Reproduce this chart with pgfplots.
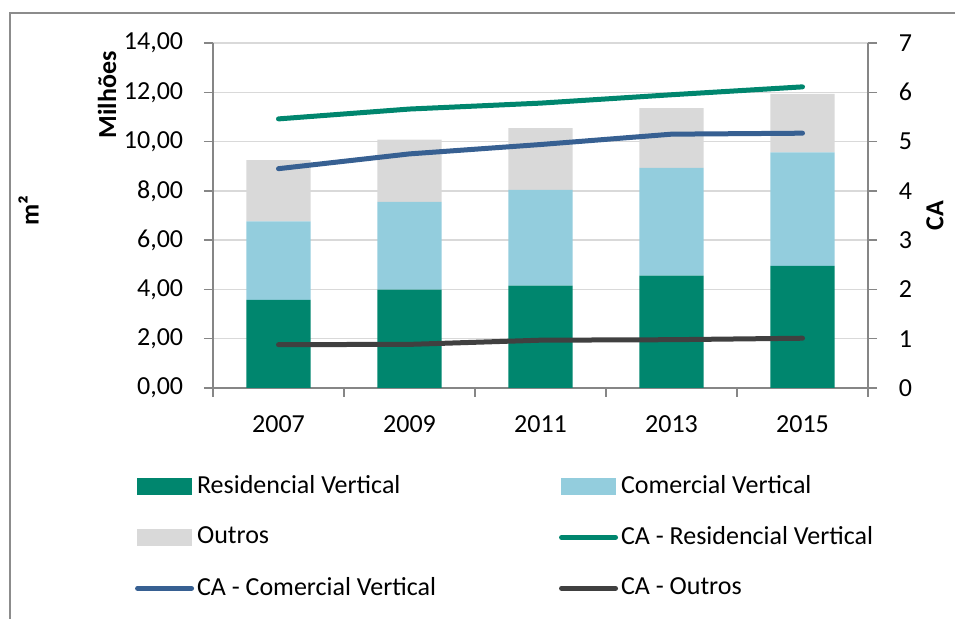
\documentclass[border=0pt]{standalone}
\usepackage{fontspec}
\setmainfont{Carlito}
\usepackage{pgfplots}
\pgfplotsset{compat=1.18}
\definecolor{resgreen}{HTML}{00866E}
\definecolor{comblue}{HTML}{93CDDD}
\definecolor{outgray}{HTML}{D9D9D9}
\definecolor{cacom}{HTML}{376092}
\definecolor{caout}{HTML}{404040}
\definecolor{axisgray}{HTML}{868686}
\definecolor{gridgray}{HTML}{D9D9D9}
\definecolor{framegray}{HTML}{8C8C8C}
\begin{document}
\fontsize{26bp}{31bp}\selectfont
\begin{tikzpicture}
\path[use as bounding box] (0,0) rectangle (955bp,619bp);
\draw[framegray, line width=1.5bp] (10bp,0bp) -- (10bp,606bp) -- (955bp,606bp);
\begin{axis}[
  at={(213bp,231bp)}, anchor=south west,
  scale only axis, width=655bp, height=345bp,
  xmin=-0.5, xmax=4.5, ymin=0, ymax=14, enlargelimits=false,
  ybar stacked, bar width=0.49,
  axis x line*=bottom, axis y line*=left,
  axis line style={draw=axisgray, line width=1.5bp},
  tick align=outside, major tick length=9bp,
  every tick/.style={draw=axisgray, line width=1.5bp},
  ytick={0,2,...,14},
  ymajorgrids, grid style={draw=gridgray, line width=1.3bp},
  xtick={-0.5,0.5,1.5,2.5,3.5,4.5}, xticklabels={,,,,,},
  extra x ticks={0,1,2,3,4},
  extra x tick labels={2007,2009,2011,2013,2015},
  extra x tick style={major tick length=0pt},
  x tick label style={yshift=-19bp},
  /pgf/number format/assume math mode=true,
  y tick label style={xshift=-12bp, /pgf/number format/.cd, fixed, fixed zerofill, precision=2, use comma, /tikz/.cd},
]
\addplot[fill=resgreen, draw=none] coordinates {(0,3.58) (1,3.99) (2,4.15) (3,4.56) (4,4.96)};
\addplot[fill=comblue, draw=none] coordinates {(0,3.18) (1,3.56) (2,3.89) (3,4.37) (4,4.60)};
\addplot[fill=outgray, draw=none] coordinates {(0,2.49) (1,2.53) (2,2.51) (3,2.43) (4,2.38)};
\end{axis}
\begin{axis}[
  at={(213bp,231bp)}, anchor=south west,
  scale only axis, width=655bp, height=345bp,
  xmin=-0.5, xmax=4.5, ymin=0, ymax=7, enlargelimits=false,
  axis x line=none, axis y line*=right,
  axis line style={draw=axisgray, line width=1.5bp},
  tick align=outside, major tick length=9bp,
  every tick/.style={draw=axisgray, line width=1.5bp},
  ytick={0,1,...,7},
  y tick label style={xshift=13bp},
  /pgf/number format/assume math mode=true,
  legend image code/.code={\draw[line cap=round] (0bp,0bp) -- (54bp,0bp); \path (57bp,0bp);},
  legend columns=2,
  legend cell align=left,
  legend style={at={(axis description cs:-0.119,-0.2535)}, anchor=north west,
    draw=none, fill=none, inner sep=0pt, outer sep=0pt, row sep=29bp,
    nodes={inner xsep=0pt, inner ysep=0pt},
    /tikz/every even column/.append style={column sep=123bp}},
]
\addlegendimage{legend image code/.code={\fill[resgreen] (0bp,-8bp) rectangle (54bp,8bp); \path (57bp,0bp);}}
\addlegendentry{Residencial Vertical}
\addlegendimage{legend image code/.code={\fill[comblue] (0bp,-8bp) rectangle (54bp,8bp); \path (57bp,0bp);}}
\addlegendentry{Comercial Vertical}
\addlegendimage{legend image code/.code={\fill[outgray] (0bp,-8bp) rectangle (54bp,8bp); \path (57bp,0bp);}}
\addlegendentry{Outros}
\addplot[color=resgreen, line width=5bp, line cap=round, line join=round, mark=none] coordinates {(0,5.46) (1,5.66) (2,5.78) (3,5.95) (4,6.11)};
\addlegendentry{CA - Residencial Vertical}
\addplot[color=cacom, line width=5bp, line cap=round, line join=round, mark=none] coordinates {(0,4.45) (1,4.75) (2,4.94) (3,5.15) (4,5.17)};
\addlegendentry{CA - Comercial Vertical}
\addplot[color=caout, line width=5bp, line cap=round, line join=round, mark=none] coordinates {(0,0.88) (1,0.885) (2,0.97) (3,0.98) (4,1.01)};
\addlegendentry{CA - Outros}
\end{axis}
\node[rotate=90, font=\bfseries] at (28.5bp,408bp) {m²};
\node[rotate=90, font=\bfseries] at (107bp,524bp) {Milhões};
\node[rotate=90, font=\bfseries] at (935bp,403bp) {CA};
\end{tikzpicture}
\end{document}
